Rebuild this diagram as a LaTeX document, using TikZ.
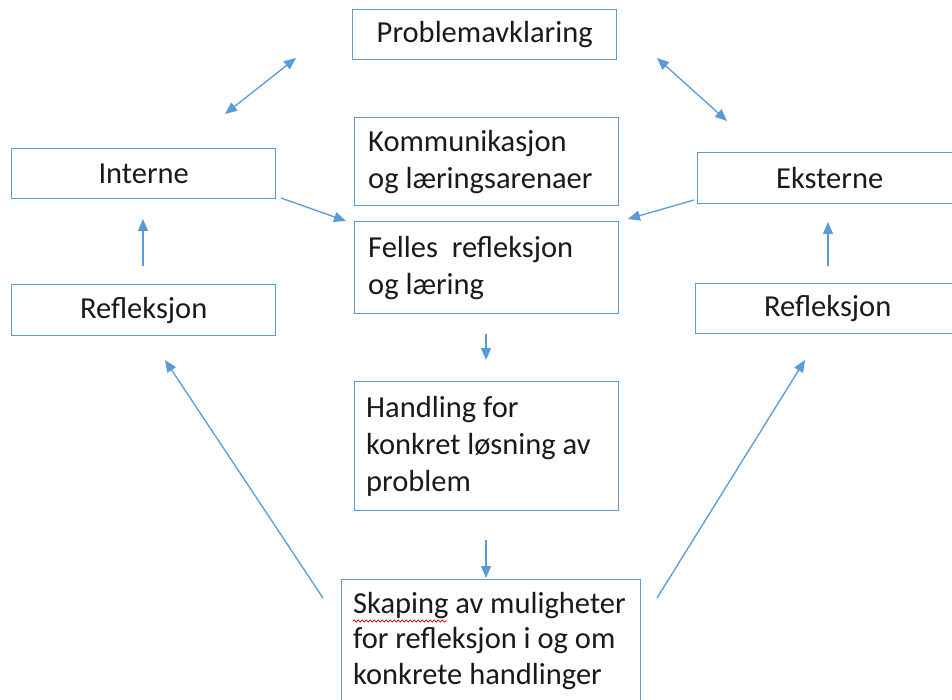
\documentclass[tikz,border=0pt]{standalone}
\usepackage{fontspec}
\setmainfont{Carlito}
\usetikzlibrary{arrows.meta,decorations.pathmorphing}
\definecolor{lineblue}{HTML}{5B9BD5}
\definecolor{txt}{HTML}{1A1A1A}
\tikzset{
  box/.style={draw=lineblue, line width=1.4pt, rectangle, anchor=north west, inner sep=0pt,
    text=txt, font={\fontsize{30.5}{37.5}\selectfont}},
  ltext/.style={anchor=west, align=left, inner sep=0pt, text=txt, font={\fontsize{30.5}{37}\selectfont}},
  conn/.style={draw=lineblue, line width=1.3pt, -{Triangle[length=12pt,width=10pt]}},
  dconn/.style={draw=lineblue, line width=1.3pt, {Triangle[length=12pt,width=10pt]}-{Triangle[length=12pt,width=10pt]}}
}
\begin{document}
\begin{tikzpicture}[x=1pt,y=-1pt]
\useasboundingbox (0,0) rectangle (952,700);
\fill[white] (0,0) rectangle (952,700);
% boxes
\node[box, minimum width=264pt, minimum height=50pt] (prob) at (352,9) {Problemavklaring};
\node[box, minimum width=264pt, minimum height=88pt] (komm) at (354,117) {};
\node[box, minimum width=264pt, minimum height=92pt] (felles) at (354,221) {};
\node[box, minimum width=264pt, minimum height=129pt] (hand) at (354,381) {};
\node[box, minimum width=299pt, minimum height=124pt] (skap) at (341,579) {};
\node[box, minimum width=264pt, minimum height=50pt] (int) at (11,148) {Interne};
\node[box, minimum width=264pt, minimum height=51pt] (refl) at (11,284) {Refleksjon};
\node[box, minimum width=264pt, minimum height=51pt] (eks) at (697,152) {Eksterne};
\node[box, minimum width=264pt, minimum height=50pt] (refr) at (695,283) {Refleksjon};
% left-aligned texts
\node[ltext] (komm-t) at ([xshift=14pt]komm.west) {Kommunikasjon\\og læringsarenaer};
\node[ltext] (felles-t) at ([xshift=14pt]felles.west) {Felles\ \ refleksjon\\og læring};
\node[ltext] (hand-t) at ([xshift=12pt]hand.west) {Handling for\\konkret løsning av\\problem};
\node[ltext, font={\fontsize{30.5}{35.5}\selectfont}] (skap-t) at ([xshift=12pt,yshift=1pt]skap.west) {Skaping av muligheter\\for refleksjon i og om\\konkrete handlinger};
% spell-check underline
\draw[red!85!black, line width=0.7pt, decorate, decoration={snake, amplitude=1.1pt, segment length=4pt}] (353,621) -- (447,621);
% connector end points
\coordinate (a1) at (225,114); \coordinate (a2) at (296,58);
\coordinate (b1) at (657,58); \coordinate (b2) at (727,121);
\coordinate (c1) at (281,198); \coordinate (c2) at (346,221);
\coordinate (d1) at (694,200); \coordinate (d2) at (628,219);
\coordinate (e1) at (143,266); \coordinate (e2) at (143,219);
\coordinate (f1) at (828,266); \coordinate (f2) at (828,222);
\coordinate (g1) at (486,334); \coordinate (g2) at (486,360);
\coordinate (h1) at (486,540); \coordinate (h2) at (486,578);
\coordinate (i1) at (323,598); \coordinate (i2) at (165,360);
\coordinate (j1) at (657,598); \coordinate (j2) at (805,360);
\draw[dconn] (a1) -- (a2);
\draw[dconn] (b1) -- (b2);
\draw[conn] (c1) -- (c2);
\draw[conn] (d1) -- (d2);
\draw[conn] (e1) -- (e2);
\draw[conn] (f1) -- (f2);
\draw[conn] (g1) -- (g2);
\draw[conn] (h1) -- (h2);
\draw[conn] (i1) -- (i2);
\draw[conn] (j1) -- (j2);
\end{tikzpicture}
\end{document}
